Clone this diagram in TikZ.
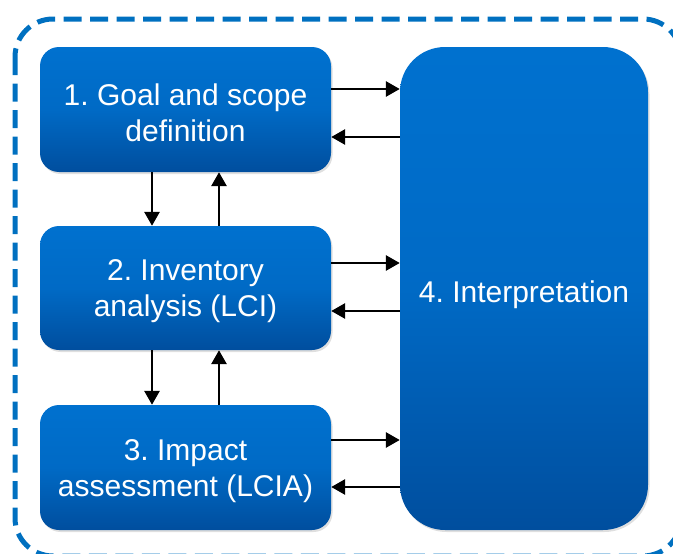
\documentclass[tikz,border=0pt]{standalone}
\usepackage{fontspec}
\setmainfont{Liberation Sans}
\usetikzlibrary{shapes,arrows.meta,shadows}

\definecolor{boxtop}{HTML}{0071CF}
\definecolor{boxbot}{HTML}{004E9E}
\definecolor{frameblue}{HTML}{0070C0}

\newcommand{\toppad}[1]{\rule{0pt}{#1}}

\tikzset{
  stage/.style={shape=rectangle,rounded corners=19pt,align=center,text=white,inner sep=0pt,
    top color=boxtop,bottom color=boxbot,middle color=boxtop!80!boxbot,
    drop shadow={opacity=0.25,shadow xshift=1.5pt,shadow yshift=-2pt},
    font=\fontsize{30}{36}\selectfont},
  flow/.style={-{Triangle[length=14pt,width=15pt]},draw=black,line width=2.8pt}
}

\begin{document}
\frenchspacing
\begin{tikzpicture}[x=1pt,y=-1pt]
\useasboundingbox (0,0) rectangle (673,554);
\draw[frameblue,line width=5pt,rounded corners=38pt,dash pattern=on 18pt off 8.5pt] (15,19) rectangle (681,556);

\node[stage,minimum width=291pt,minimum height=125pt] (b1) at (185.5,109.5) {\toppad{28pt}1. Goal and scope\\definition};
\node[stage,minimum width=291pt,minimum height=124pt] (b2) at (185.5,288) {\toppad{28pt}2. Inventory\\analysis (LCI)};
\node[stage,minimum width=291pt,minimum height=125pt] (b3) at (185.5,467.5) {\toppad{28pt}3. Impact\\assessment (LCIA)};
\node[stage,rounded corners=45pt,minimum width=248pt,minimum height=483pt] (b4) at (524,288.5) {\toppad{35pt}4. Interpretation};

\path ([xshift=-33.5pt]b1.south) edge [flow] node {} ([xshift=-33.5pt]b2.north);
\path ([xshift=33.5pt]b2.north) edge [flow] node {} ([xshift=33.5pt]b1.south);
\path ([xshift=-33.5pt]b2.south) edge [flow] node {} ([xshift=-33.5pt]b3.north);
\path ([xshift=33.5pt]b3.north) edge [flow] node {} ([xshift=33.5pt]b2.south);

\path ([yshift=20.5pt]b1.east) edge [flow] node {} ([yshift=199.5pt]b4.west);
\path ([yshift=151.5pt]b4.west) edge [flow] node {} ([yshift=-27.5pt]b1.east);
\path ([yshift=25pt]b2.east) edge [flow] node {} ([yshift=25.5pt]b4.west);
\path ([yshift=-22.5pt]b4.west) edge [flow] node {} ([yshift=-23pt]b2.east);
\path ([yshift=27.5pt]b3.east) edge [flow] node {} ([yshift=-151.5pt]b4.west);
\path ([yshift=-198.5pt]b4.west) edge [flow] node {} ([yshift=-19.5pt]b3.east);
\end{tikzpicture}
\end{document}
